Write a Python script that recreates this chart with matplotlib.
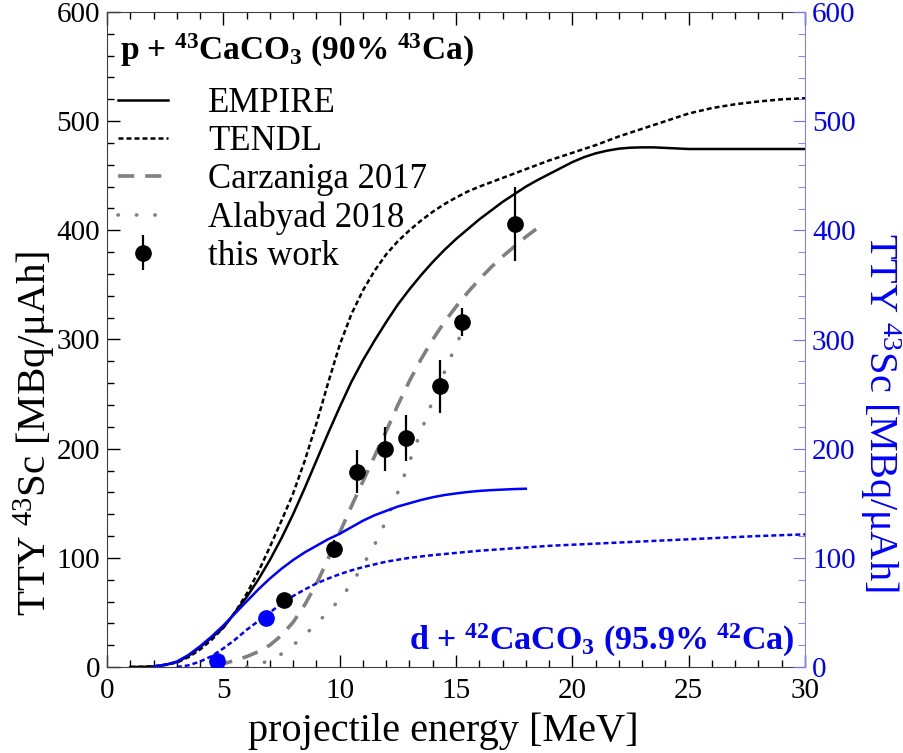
import numpy as np
import matplotlib
matplotlib.use("Agg")
import matplotlib.pyplot as plt
from matplotlib.ticker import MultipleLocator

plt.rcParams['font.family'] = ['Liberation Serif', 'DejaVu Serif']
plt.rcParams['mathtext.fontset'] = 'custom'
plt.rcParams['mathtext.rm'] = 'Liberation Serif'
plt.rcParams['mathtext.it'] = 'Liberation Serif:italic'
plt.rcParams['mathtext.bf'] = 'Liberation Serif:bold'

# ---- data ----
empire_x = [1.0, 1.5, 2.0, 2.5, 3.0, 3.5, 4.0, 4.5, 5.0, 5.5, 6.0, 6.5, 7.0, 7.5, 8.0, 8.5, 9.0, 9.5, 10.0,
            10.5, 11.0, 11.5, 12.0, 12.5, 13.0, 13.5, 14.0, 14.5, 15.0, 15.5, 16.0, 16.5, 17.0, 17.5, 18.0,
            18.5, 19.0, 19.5, 20.0, 20.5, 21.0, 21.5, 22.0, 22.5, 23.0, 23.5, 24.0, 24.5, 25.0, 30.0]
empire_y = [0, 0.1, 0.5, 1.8, 4.5, 10, 18, 27, 36, 50, 64, 80, 98, 118, 140, 164, 189, 214, 238,
            261, 281, 299, 316, 332, 346, 359, 371, 382, 392, 401, 410, 418, 426, 433, 440,
            446, 451.5, 457, 462.5, 467, 470.5, 473, 474.8, 475.7, 476, 476, 475.5, 475, 474.5, 474.5]

tendl_x = [1.0, 2.0, 3.0, 3.5, 4.0, 4.5, 5.0, 5.5, 6.0, 6.5, 7.0, 7.5, 8.0, 8.5, 9.0, 9.5, 10.0, 10.5, 11.0,
           11.5, 12.0, 12.5, 13.0, 13.5, 14.0, 14.5, 15.0, 15.5, 16.0, 16.5, 17.0, 17.5, 18.0, 18.5, 19.0,
           19.5, 20.0, 21.0, 22.0, 23.0, 24.0, 25.0, 26.0, 27.0, 28.0, 29.0, 30.0]
tendl_y = [0, 0.5, 4, 9, 16, 25, 36, 50, 67, 87, 110, 134, 159, 189, 223, 260, 295, 323, 345,
           363, 378, 390, 400, 409, 417, 424, 430, 435.5, 440, 444, 448, 452, 456, 460, 464,
           467.5, 471, 478, 486, 493, 500, 507, 512, 515.5, 518, 520, 521]

carz_x = [4.7, 5.0, 5.5, 6.0, 6.5, 7.0, 7.5, 8.0, 8.5, 9.0, 9.5, 10.0, 10.5, 11.0, 11.5, 12.0, 12.5,
          13.0, 13.5, 14.0, 14.5, 15.0, 15.5, 16.0, 16.5, 17.0, 17.5, 18.0, 18.5]
carz_y = [2, 3, 6, 9.5, 14, 20, 29, 41, 57, 76, 99, 123, 147, 170, 193, 216, 240,
          262, 282, 300, 316, 330, 343, 355, 366, 376, 385, 394, 402]

alab_x = [6.0, 6.5, 7.0, 7.5, 8.0, 8.5, 9.0, 9.5, 10.0, 10.5, 11.0, 11.5, 12.0, 12.5, 13.0, 13.5,
          14.0, 14.5, 15.0, 15.5, 15.7]
alab_y = [0, 2.5, 6, 12, 20, 29, 40, 50, 62, 76, 93, 112, 134, 160, 188, 216,
          244, 270, 295, 318, 327]

d_emp_x = [2.0, 2.5, 3.0, 3.5, 4.0, 4.5, 5.0, 5.5, 6.0, 6.5, 7.0, 7.5, 8.0, 8.5, 9.0, 9.5, 10.0, 10.5,
           11.0, 11.5, 12.0, 12.5, 13.0, 13.5, 14.0, 14.5, 15.0, 15.5, 16.0, 16.5, 17.0, 17.5, 18.0]
d_emp_y = [0.5, 2, 5, 11, 19, 28, 38, 49, 60, 71, 81, 90, 98, 105, 111, 117, 122, 128,
           134, 139, 143, 147, 150, 153, 155.5, 157.5, 159, 160.3, 161.3, 162, 162.5, 163, 163.3]

d_tendl_x = [3.0, 3.5, 4.0, 4.5, 5.0, 5.5, 6.0, 6.5, 7.0, 7.5, 8.0, 8.5, 9.0, 9.5, 10.0, 10.5, 11.0,
             11.5, 12.0, 13.0, 14.0, 15.0, 16.0, 17.0, 18.0, 19.0, 20.0, 22.0, 24.0, 26.0, 28.0, 30.0]
d_tendl_y = [0, 1.5, 5, 10, 17, 25, 34, 42, 50, 58, 65, 71, 76.5, 81, 85, 88.5, 91.5,
             94, 96.5, 100, 102.5, 104.5, 106.5, 108, 109.5, 111, 112, 114, 116, 118, 120, 121.5]

work_x = [7.61, 9.76, 10.73, 11.95, 12.85, 14.32, 15.25, 17.54]
work_y = [61, 108, 179, 200, 210, 257, 316, 406]
work_err = [4, 8, 20, 20, 21, 24, 13, 34]

d_work_x = [4.71, 6.83]
d_work_y = [5.5, 45]

W, H = 904, 753
fig = plt.figure(figsize=(W / 100, H / 100), dpi=100)
ax = fig.add_axes([107 / W, 1 - 667 / H, (805 - 107) / W, (667 - 12) / H])

ax.plot(empire_x, empire_y, color='black', lw=1.8, label='EMPIRE')
ax.plot(tendl_x, tendl_y, color='black', lw=1.8, ls=(0, (2, 1.2)), label='TENDL')
ax.plot(carz_x, carz_y, color='#808080', lw=2.6, ls=(0, (4.5, 3)), label='Carzaniga 2017')
ax.plot(alab_x, alab_y, color='#808080', lw=2.6, ls=(0, (0.1, 5)), dash_capstyle='round', label='Alabyad 2018')
ax.errorbar(work_x, work_y, yerr=work_err, fmt='o', color='black', ms=11, elinewidth=1.6, capsize=0,
            label='this work', zorder=5)

ax.plot(d_emp_x, d_emp_y, color='#0000ff', lw=1.8)
ax.plot(d_tendl_x, d_tendl_y, color='#0000ff', lw=1.8, ls=(0, (2, 1.2)))
ax.plot(d_work_x, d_work_y, 'o', color='#0000ff', ms=11, zorder=5)

ax.set_xlim(0, 30)
ax.set_ylim(0, 600)
ax.xaxis.set_major_locator(MultipleLocator(5))
ax.xaxis.set_minor_locator(MultipleLocator(1))
ax.yaxis.set_major_locator(MultipleLocator(100))
ax.yaxis.set_minor_locator(MultipleLocator(20))
ax.tick_params(which='both', direction='in', top=True, right=False, labelsize=21)
ax.tick_params(axis='x', pad=8)
ax.tick_params(axis='y', pad=5)
ax.tick_params(which='major', length=9, width=1)
ax.tick_params(which='minor', length=5, width=1)
for s in ['left', 'bottom', 'top']:
    ax.spines[s].set_color('#404040')
ax.spines['right'].set_visible(False)

ax2 = ax.twinx()
ax2.set_ylim(0, 600)
ax2.yaxis.set_major_locator(MultipleLocator(100))
ax2.yaxis.set_minor_locator(MultipleLocator(20))
ax2.tick_params(which='both', direction='in', colors='#7070ff', labelcolor='#0000ff', labelsize=21, pad=5)
ax2.tick_params(which='major', length=9)
ax2.tick_params(which='minor', length=5)
for s in ['left', 'bottom', 'top']:
    ax2.spines[s].set_visible(False)
ax2.spines['right'].set_color('#8080ff')
# lift the right-hand "0" a little so it does not collide with the "30" below it
ax2.get_yticklabels()[0].set_verticalalignment('bottom')

ylab = r'TTY $^{43}$Sc [MBq/$\mathrm{\mu}$Ah]'
fig.text(443 / W, 1 - 731 / H, 'projectile energy [MeV]', fontsize=29, ha='center', va='center')
fig.text(35 / W, 1 - 433 / H, ylab, fontsize=29.5, rotation=90, ha='center', va='center')
fig.text(880 / W, 1 - 412 / H, ylab, fontsize=29, rotation=-90, ha='center', va='center', color='#0000ff')

leg = ax.legend(loc='upper left', bbox_to_anchor=(0.0158, 0.886), frameon=False, fontsize=25,
                handlelength=1.44, handletextpad=1.15, labelspacing=0.15, borderaxespad=0, borderpad=0)

ax.text(0.0186, 0.942, r'p + $^{\mathbf{43}}$CaCO$_{\mathbf{3}}$ (90% $^{\mathbf{43}}$Ca)', transform=ax.transAxes,
        fontsize=24, fontweight='bold', va='center', ha='left')
ax.text(0.9857, 0.041, r'd + $^{\mathbf{42}}$CaCO$_{\mathbf{3}}$ (95.9% $^{\mathbf{42}}$Ca)', transform=ax.transAxes,
        fontsize=24.5, fontweight='bold', va='center', ha='right', color='#0000ff')

fig.savefig('out.png', dpi=100)
